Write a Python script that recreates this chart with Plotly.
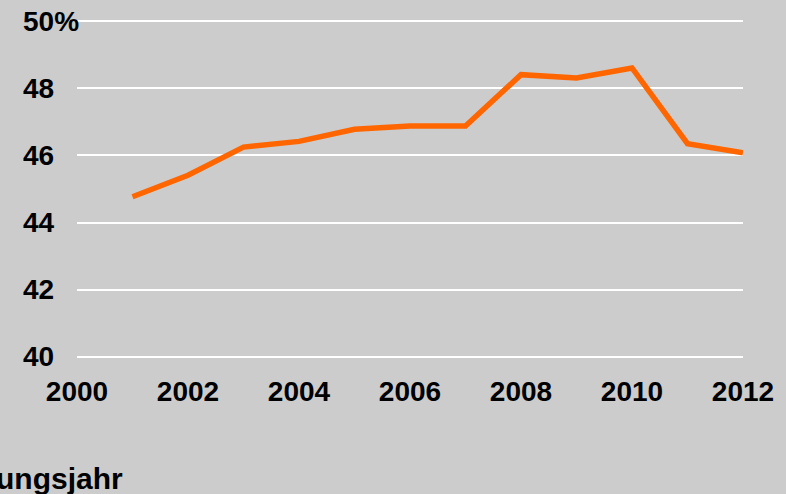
import plotly.graph_objects as go

years = [2001, 2002, 2003, 2004, 2005, 2006, 2007, 2008, 2009, 2010, 2011, 2012]
values = [44.77, 45.41, 46.25, 46.42, 46.78, 46.88, 46.88, 48.41, 48.31, 48.61, 46.35, 46.08]

x_tickvals = [2000, 2002, 2004, 2006, 2008, 2010, 2012]
x_ticktext = ["2000", "2002", "2004", "2006", "2008", "2010", "2012"]
y_tickvals = [40, 42, 44, 46, 48, 50]
y_ticktext = ["40", "42", "44", "46", "48", "50%"]
axis_title = "ungsjahr"

BG = "#cccccc"
FONT = dict(family="Arial, 'Liberation Sans', sans-serif", size=28, color="#000000", weight="bold")
TITLE_FONT = dict(FONT, size=30)

fig = go.Figure()
fig.add_trace(go.Scatter(
    x=years, y=values, mode="lines",
    line=dict(color="#ff6600", width=5.5),
    hoverinfo="skip", showlegend=False,
))

fig.update_layout(
    width=786, height=494,
    margin=dict(l=77, r=43, t=18, b=134),
    paper_bgcolor=BG, plot_bgcolor=BG,
    font=FONT,
    xaxis=dict(
        range=[2000, 2012], tickvals=x_tickvals, ticktext=x_ticktext,
        showgrid=False, zeroline=False, showline=False, ticks="",
        tickfont=FONT, ticklabelstandoff=12,
    ),
    yaxis=dict(
        range=[39.9, 50.1], tickvals=y_tickvals, showticklabels=False,
        showgrid=True, gridcolor="#ffffff", gridwidth=1.5,
        zeroline=False, showline=False, ticks="",
    ),
)

for v, t in zip(y_tickvals, y_ticktext):
    fig.add_annotation(
        x=0, xref="paper", y=v, yref="y", text=t, showarrow=False,
        xanchor="left", yanchor="middle", xshift=-56, font=FONT,
    )

fig.add_annotation(
    x=0, xref="paper", y=0, yref="paper", text=axis_title, showarrow=False,
    xanchor="left", yanchor="top", xshift=-83, yshift=-100, font=TITLE_FONT,
)

fig.write_html(
    "out.html",
    config={"displayModeBar": False},
    post_script="document.body.style.margin='0';document.body.style.background='#cccccc';",
)
